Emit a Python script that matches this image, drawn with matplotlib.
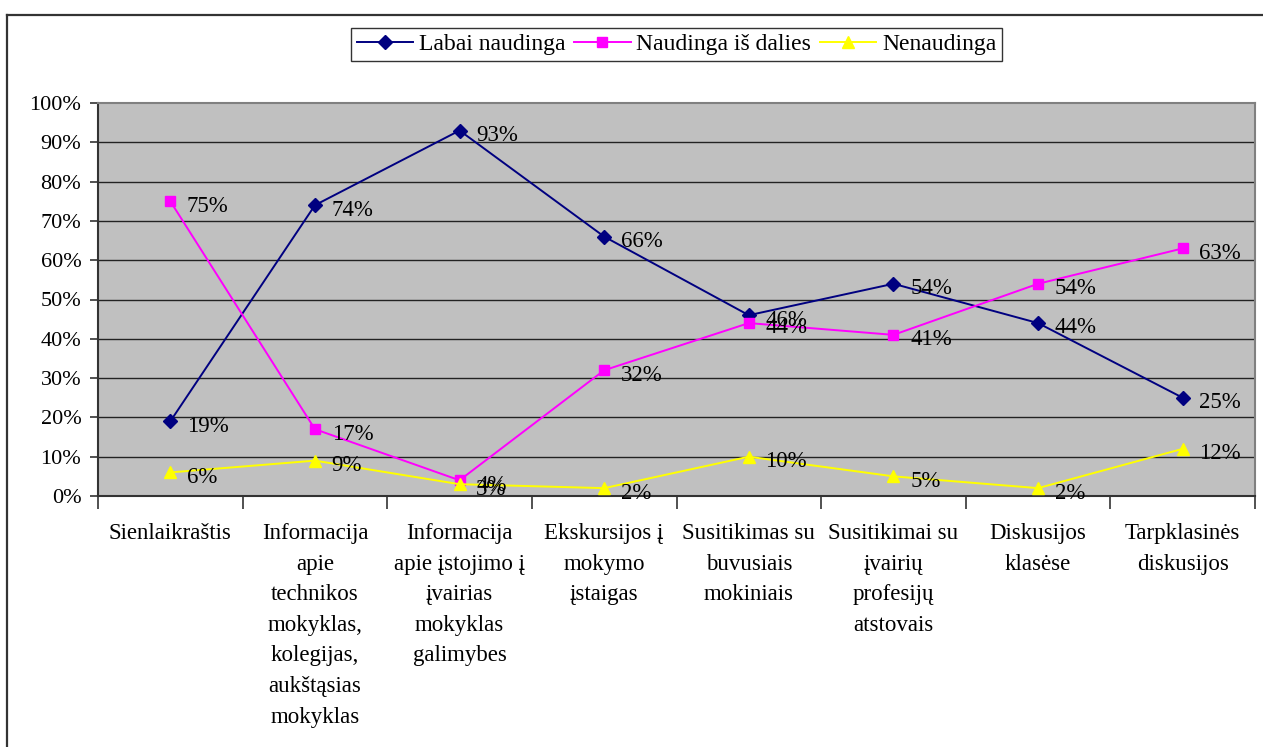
import matplotlib
matplotlib.use("Agg")
import matplotlib.pyplot as plt
from matplotlib.lines import Line2D
from matplotlib.ticker import FixedLocator, NullFormatter
from matplotlib.transforms import blended_transform_factory

categories = [
    "Sienlaikraštis",
    "Informacija\napie\ntechnikos\nmokyklas,\nkolegijas,\naukštąsias\nmokyklas",
    "Informacija\napie įstojimo į\nįvairias\nmokyklas\ngalimybes",
    "Ekskursijos į\nmokymo\nįstaigas",
    "Susitikimas su\nbuvusiais\nmokiniais",
    "Susitikimai su\nįvairių\nprofesijų\natstovais",
    "Diskusijos\nklasėse",
    "Tarpklasinės\ndiskusijos",
]
labai = [19, 74, 93, 66, 46, 54, 44, 25]
is_dalies = [75, 17, 4, 32, 44, 41, 54, 63]
nenaudinga = [6, 9, 3, 2, 10, 5, 2, 12]
series_names = ["Labai naudinga", "Naudinga iš dalies", "Nenaudinga"]
yticks = [0, 10, 20, 30, 40, 50, 60, 70, 80, 90, 100]

plt.rcParams['font.family'] = ['Liberation Serif', 'DejaVu Serif']

W, H = 1263, 747
fig = plt.figure(figsize=(W / 100, H / 100), dpi=100)
fig.patch.set_facecolor('white')

# outer frame
fig.add_artist(Line2D([7 / W, 1.0], [1 - 15 / H, 1 - 15 / H], color='#333333', lw=1.6, transform=fig.transFigure))
fig.add_artist(Line2D([7 / W, 7 / W], [0, 1 - 15 / H], color='#333333', lw=1.6, transform=fig.transFigure))

left, right, top, bottom = 98, 1255, 103, 496
ax = fig.add_axes([left / W, 1 - bottom / H, (right - left) / W, (bottom - top) / H])
ax.set_facecolor('#C0C0C0')
ax.set_xlim(0, len(categories))
ax.set_ylim(0, 100)

for s in ax.spines.values():
    s.set_color('#808080')
    s.set_linewidth(1.5)
ax.spines['left'].set_color('#333333')
ax.spines['bottom'].set_color('#333333')

ax.set_yticks(yticks)
ax.set_yticklabels([f"{v}%" for v in yticks], fontsize=16)
for v in yticks[1:-1]:
    ax.axhline(v, color='#222222', lw=1.0, zorder=1)
ax.tick_params(axis='y', direction='out', length=6, width=1.2, pad=6, color='#333333')

ax.xaxis.set_major_locator(FixedLocator(list(range(len(categories) + 1))))
ax.xaxis.set_major_formatter(NullFormatter())
ax.tick_params(axis='x', which='major', direction='out', length=9, width=1.2, color='#333333')

x = [i + 0.5 for i in range(len(categories))]
trans = blended_transform_factory(ax.transData, ax.transAxes)
for xi, cat in zip(x, categories):
    ax.text(xi, -(523 - bottom) / (bottom - top), cat, transform=trans, ha='center', va='top',
            fontsize=16.5, linespacing=1.6, multialignment='center')

styles = [
    (labai, '#000080', 'D', 7.5),
    (is_dalies, '#FF00FF', 's', 7.5),
    (nenaudinga, '#FFFF00', '^', 9),
]
handles = []
for (vals, col, mk, ms), name in zip(styles, series_names):
    h, = ax.plot(x, vals, color=col, marker=mk, markersize=ms, lw=1.4,
                 markeredgecolor=col, zorder=3, label=name, clip_on=False)
    handles.append(h)
    for xi, v in zip(x, vals):
        ax.annotate(f"{v}%", (xi, v), xytext=(12, -3.5), textcoords='offset points',
                    ha='left', va='center', fontsize=16.5, zorder=4)

leg = ax.legend(handles=handles, loc='center', bbox_to_anchor=(0.5, 1 + (103 - 44.5) / (bottom - top)),
                ncol=3, frameon=True, fancybox=False, edgecolor='black', fontsize=17,
                handlelength=2.4, handletextpad=0.25, columnspacing=0.35, borderpad=0.25,
                borderaxespad=0)
leg.get_frame().set_linewidth(1.0)

fig.savefig("out.png", dpi=100, facecolor='white')
